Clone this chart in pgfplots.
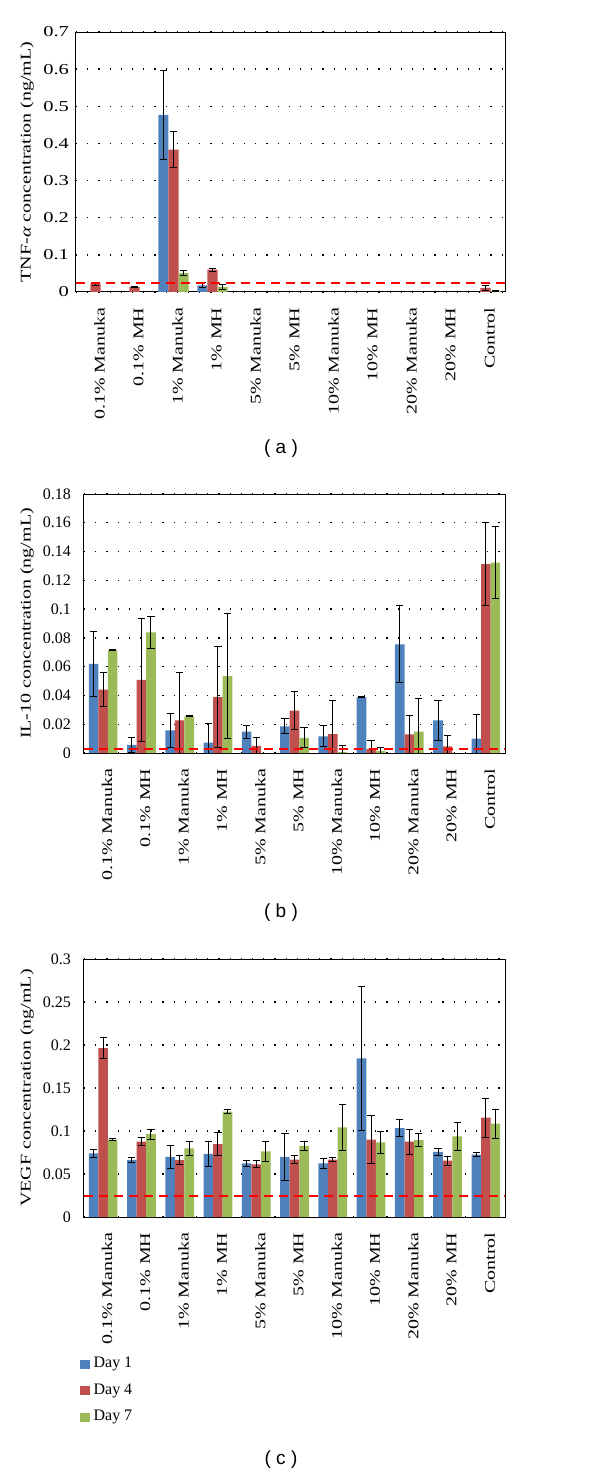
\documentclass[border=0pt]{standalone}
\usepackage{fontspec}
\setmainfont{Liberation Serif}
\newfontfamily\stretchfont{Liberation Serif}[FakeStretch=1.35]
\newfontfamily\capfont{Liberation Sans}
\usepackage{pgfplots}
\pgfplotsset{compat=1.18}
\definecolor{dayone}{HTML}{4F81BD}
\definecolor{dayfour}{HTML}{C0504D}
\definecolor{dayseven}{HTML}{9BBB59}
\pgfplotsset{
  panel/.style={
    scale only axis, ybar,
    xmin=-0.5, xmax=10.5, ymin=0,
    axis line style={black, line width=0.5pt},
    xtick={0,...,10},
    xticklabels={0.1\% Manuka, 0.1\% MH, 1\% Manuka, 1\% MH, 5\% Manuka, 5\% MH, 10\% Manuka, 10\% MH, 20\% Manuka, 20\% MH, Control},
    x tick label style={rotate=90, anchor=east, font=\stretchfont\fontsize{7.4}{8}\selectfont, yshift=-2pt},
    major x tick style={draw=none},
    extra x ticks={-0.5,0.5,1.5,2.5,3.5,4.5,5.5,6.5,7.5,8.5,9.5,10.5},
    extra x tick labels={},
    extra x tick style={grid=none, major tick length=2.5pt, tick align=outside, tick style={draw=black, line width=0.5pt}},
    xtick pos=lower, ytick pos=left,
    ytick style={draw=none},
    ymajorgrids,
    major grid style={black, line width=0.7pt, dash pattern=on 0.6pt off 5pt},
    /pgf/number format/assume math mode=true,
    /pgf/number format/fixed,
    /pgf/number format/precision=2,
  },
  eb/.style={/pgfplots/error bars/y dir=both, /pgfplots/error bars/y explicit,
    /pgfplots/error bars/error bar style={black, line width=0.5pt},
    /pgfplots/error bars/error mark options={rotate=90, mark size=1.8pt, black, line width=0.5pt}},
  bA/.style={eb, /pgfplots/bar shift=-0.25, fill=dayone, draw=none},
  bB/.style={eb, /pgfplots/bar shift=0, fill=dayfour, draw=none},
  bC/.style={eb, /pgfplots/bar shift=0.25, fill=dayseven, draw=none},
  thr/.style={sharp plot, color=red, draw=red, solid, line width=1pt, dash pattern=on 4.5pt off 3pt, forget plot, mark=none},
}
\begin{document}
\begin{tikzpicture}
\useasboundingbox (0,0) rectangle (300pt,-737pt);
% ---------------- panel (a)
\begin{axis}[panel, at={(38pt,-16pt)}, anchor=north west,
  width=214.5pt, height=130pt, ymax=0.7, bar width=0.26,
  ytick={0,0.1,0.2,0.3,0.4,0.5,0.6,0.7},
  y tick label style={font=\stretchfont\fontsize{7.6}{8}\selectfont},
  every axis y label/.style={at={(axis description cs:-0.1142,0.5)}, rotate=90, anchor=center},
  ylabel={\stretchfont\fontsize{7.4}{8}\selectfont TNF-\textit{α} concentration (ng/mL)}]
\addplot[bA, /pgfplots/bar shift=-0.26] coordinates {(2,0.477) +- (0,0.12) (3,0.018) +- (0,0.007)};
\addplot[bB] coordinates {(0,0.022) +- (0,0.004) (1,0.013) +- (0,0.0008) (2,0.383) +- (0,0.049) (3,0.060) +- (0,0.004) (10,0.011) +- (0,0.007)};
\addplot[bC, /pgfplots/bar shift=0.26] coordinates {(2,0.051) +- (0,0.006) (3,0.013) +- (0,0.006) (10,0.003) +- (0,0.001)};
\addplot[thr] coordinates {(-0.5,0.023) (10.5,0.023)};
\end{axis}
% ---------------- panel (b)
\begin{axis}[panel, at={(42pt,-247pt)}, anchor=north west,
  width=210.5pt, height=129.5pt, ymax=0.18, bar width=0.25,
  ytick={0,0.02,0.04,0.06,0.08,0.1,0.12,0.14,0.16,0.18},
  y tick label style={font=\fontsize{8}{9}\selectfont, xshift=-3pt},
  every axis y label/.style={at={(axis description cs:-0.1354,0.5)}, rotate=90, anchor=center},
  ylabel={\stretchfont\fontsize{7.4}{8}\selectfont IL-10 concentration (ng/mL)}]
\addplot[bA] coordinates {(0,0.062) +- (0,0.0225) (1,0.0056) +- (0,0.0053) (2,0.0157) +- (0,0.0118) (3,0.0072) +- (0,0.013) (4,0.0148) +- (0,0.0045) (5,0.0185) +- (0,0.0052) (6,0.0116) +- (0,0.0074) (7,0.0387) +- (0,0.0003) (8,0.0755) +- (0,0.0267) (9,0.0227) +- (0,0.014) (10,0.010) +- (0,0.017)};
\addplot[bB] coordinates {(0,0.044) +- (0,0.012) (1,0.0509) +- (0,0.0426) (2,0.0227) +- (0,0.033) (3,0.0389) +- (0,0.035) (4,0.0049) +- (0,0.006) (5,0.0294) +- (0,0.0132) (6,0.0132) +- (0,0.0234) (7,0.0028) +- (0,0.006) (8,0.013) +- (0,0.0134) (9,0.0046) +- (0,0.0077) (10,0.1313) +- (0,0.029)};
\addplot[bC] coordinates {(0,0.0713) +- (0,0.0003) (1,0.0838) +- (0,0.011) (2,0.0255) +- (0,0.0003) (3,0.0535) +- (0,0.0435) (5,0.0106) +- (0,0.0068) (6,0.0007) +- (0,0.0044) (7,0.0014) +- (0,0.0023) (8,0.0148) +- (0,0.0229) (10,0.1324) +- (0,0.025)};
\addplot[thr] coordinates {(-0.5,0.003) (10.5,0.003)};
\end{axis}
% ---------------- panel (c)
\begin{axis}[panel, at={(42pt,-479.5pt)}, anchor=north west,
  width=210.5pt, height=129pt, ymax=0.3, bar width=0.25,
  ytick={0,0.05,0.1,0.15,0.2,0.25,0.3},
  y tick label style={font=\fontsize{8}{9}\selectfont, xshift=-3pt},
  every axis y label/.style={at={(axis description cs:-0.1354,0.5)}, rotate=90, anchor=center},
  ylabel={\stretchfont\fontsize{7.4}{8}\selectfont VEGF concentration (ng/mL)},
  legend style={at={(axis description cs:0,0)}, anchor=north west, xshift=-3pt, yshift=-67pt, draw=none, fill=none, font=\fontsize{8}{9}\selectfont, row sep=2.5pt, inner sep=1pt},
  legend cell align=left]
\addplot[bA, legend image code/.code={\fill[dayone] (0pt,-2.3pt) rectangle (4.6pt,2.3pt);}] coordinates {(0,0.074) +- (0,0.0045) (1,0.0663) +- (0,0.003) (2,0.0698) +- (0,0.0137) (3,0.0733) +- (0,0.0145) (4,0.0624) +- (0,0.0035) (5,0.0698) +- (0,0.027) (6,0.0624) +- (0,0.0062) (7,0.1845) +- (0,0.084) (8,0.1035) +- (0,0.0097) (9,0.0756) +- (0,0.004) (10,0.0725) +- (0,0.0023)};
\addlegendentry{Day 1}
\addplot[bB, legend image code/.code={\fill[dayfour] (0pt,-2.3pt) rectangle (4.6pt,2.3pt);}] coordinates {(0,0.1965) +- (0,0.012) (1,0.0876) +- (0,0.0045) (2,0.0663) +- (0,0.005) (3,0.0849) +- (0,0.0132) (4,0.0612) +- (0,0.004) (5,0.0667) +- (0,0.005) (6,0.0667) +- (0,0.0027) (7,0.0899) +- (0,0.028) (8,0.0876) +- (0,0.0145) (9,0.0655) +- (0,0.0052) (10,0.1155) +- (0,0.0225)};
\addlegendentry{Day 4}
\addplot[bC, legend image code/.code={\fill[dayseven] (0pt,-2.3pt) rectangle (4.6pt,2.3pt);}] coordinates {(0,0.0899) +- (0,0.0015) (1,0.0965) +- (0,0.0058) (2,0.0798) +- (0,0.0078) (3,0.1225) +- (0,0.0027) (4,0.0764) +- (0,0.0116) (5,0.0826) +- (0,0.0055) (6,0.1043) +- (0,0.0271) (7,0.0868) +- (0,0.013) (8,0.0895) +- (0,0.0072) (9,0.0938) +- (0,0.016) (10,0.1085) +- (0,0.0167)};
\addlegendentry{Day 7}
\addplot[thr] coordinates {(-0.5,0.025) (10.5,0.025)};
\end{axis}
\node[font=\capfont\fontsize{9.5}{11}\selectfont] at (140.5pt,-224.5pt) {( a )};
\node[font=\capfont\fontsize{9.5}{11}\selectfont] at (140.5pt,-456.5pt) {( b )};
\node[font=\capfont\fontsize{9.5}{11}\selectfont] at (140.5pt,-730pt) {( c )};
\end{tikzpicture}
\end{document}
